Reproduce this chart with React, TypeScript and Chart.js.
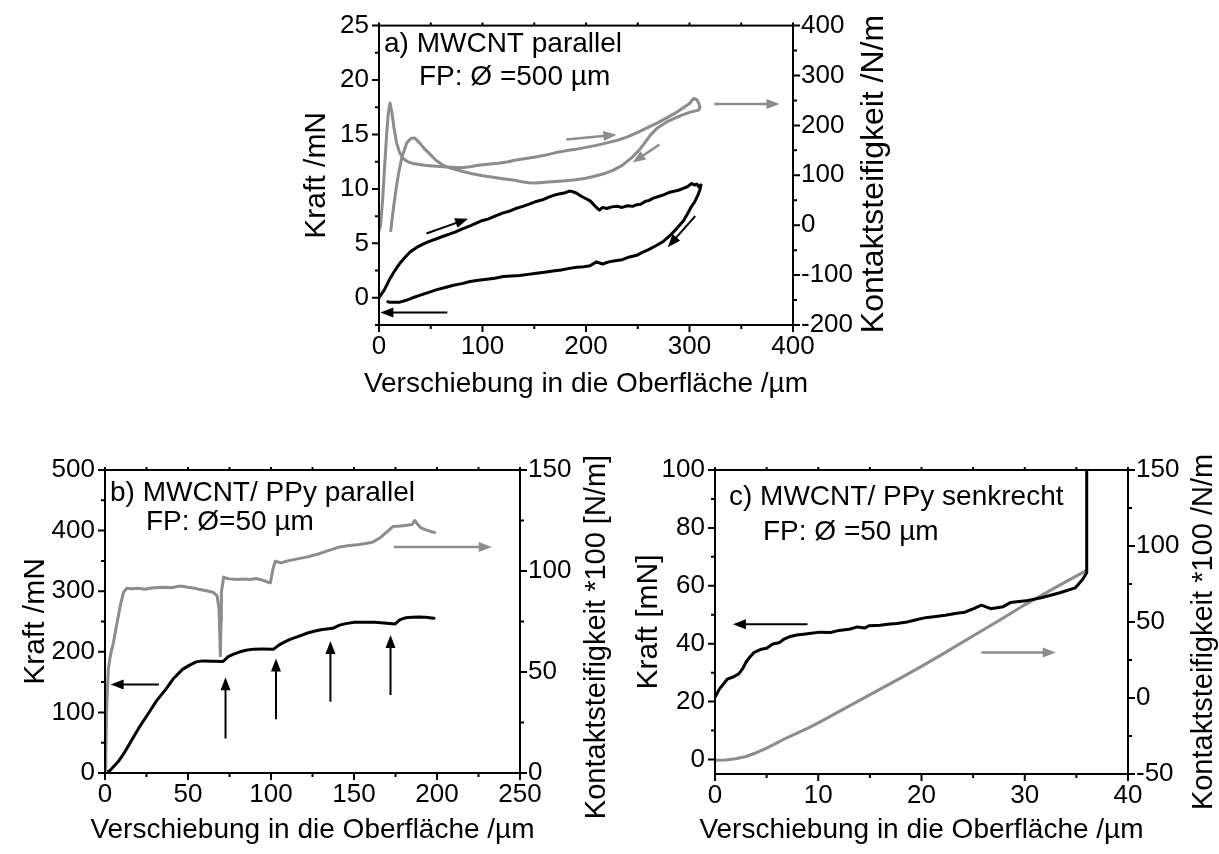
import React, { useEffect, useRef } from 'react';
import { Chart, registerables } from 'chart.js';

Chart.register(...registerables);

const FONT = '"Liberation Sans", Arial, Helvetica, sans-serif';
const BLACK = '#000000';
const GRAY = '#8c8c8c';
const TICK_SIZE = 26;
const TITLE_SIZE = 30;
const XTITLE_SIZE = 28;
const NOTE_SIZE = 28;

// ---------------- Panel a: MWCNT parallel ----------------
const aXTicks = [0, 100, 200, 300, 400];
const aForceTicks = [0, 5, 10, 15, 20, 25];
const aStiffTicks = [-200, -100, 0, 100, 200, 300, 400];

const aLoadX = [0, 5, 10, 15, 20, 25, 30, 36, 42, 48, 55, 62, 68, 74, 80, 88, 94, 100, 106, 112, 120, 126, 132, 139, 145, 152, 158, 164, 170, 175, 180, 184, 187, 191, 195, 200, 204, 207, 210, 213, 216, 220, 225, 230, 235, 240, 245, 249, 253, 257, 261, 265, 270, 275, 281, 286, 290, 294, 298, 302, 305, 307, 309, 311];
const aLoadF = [0, 0.7, 1.65, 2.45, 3.15, 3.7, 4.2, 4.6, 4.9, 5.15, 5.4, 5.65, 5.85, 6.05, 6.3, 6.6, 6.85, 7.1, 7.25, 7.5, 7.8, 7.95, 8.2, 8.4, 8.6, 8.85, 9.0, 9.25, 9.45, 9.55, 9.65, 9.8, 9.75, 9.6, 9.35, 9.1, 8.9, 8.6, 8.3, 8.05, 8.3, 8.2, 8.35, 8.4, 8.3, 8.45, 8.4, 8.55, 8.6, 8.85, 8.95, 9.15, 9.3, 9.45, 9.7, 9.8, 9.9, 10.05, 10.2, 10.5, 10.35, 10.45, 10.2, 10.35];
const aUnloadX = [311, 310, 308, 305, 302, 298, 294, 288, 281, 275, 268, 260, 254, 249, 242, 235, 228, 222, 216, 210, 204, 198, 191, 184, 176, 168, 160, 152, 144, 136, 128, 120, 112, 104, 96, 88, 80, 72, 64, 56, 48, 40, 34, 29, 24, 20, 15, 10, 8.5];
const aUnloadF = [10.35, 9.9, 9.4, 8.8, 8.4, 7.7, 7.05, 6.4, 5.7, 5.2, 4.8, 4.4, 4.15, 3.9, 3.75, 3.5, 3.4, 3.3, 3.1, 3.3, 2.95, 2.85, 2.8, 2.7, 2.55, 2.45, 2.35, 2.25, 2.15, 2.05, 2.0, 1.95, 1.8, 1.7, 1.6, 1.5, 1.3, 1.15, 0.95, 0.75, 0.5, 0.25, 0.05, -0.15, -0.3, -0.4, -0.42, -0.4, -0.36];
const aStiffLoadX = [0, 1.5, 3.5, 5.5, 7.5, 9, 10.7, 12.5, 14.5, 17, 20, 23.5, 28, 34, 44, 55, 62, 70, 79, 88, 96, 105, 115, 125, 131, 140, 150, 160, 170, 180, 190, 200, 210, 220, 230, 240, 250, 260, 269, 278, 286.5, 293, 300, 304, 307, 309, 310];
const aStiffLoadS = [-12, 0, 50, 120, 185, 225, 245, 225, 195, 165, 145, 133, 127, 123, 120, 118, 117, 116, 115, 117, 120, 122, 124, 127, 130, 133, 136, 140, 145, 149, 152, 156, 160, 165, 170, 177, 186, 196, 205, 215, 225, 234, 244, 254, 252, 244, 236];
const aStiffUnloadX = [310, 309, 300, 292, 286.5, 278, 269, 262, 256, 252, 245, 235, 226, 217, 208, 200, 190, 180, 170, 160, 152, 145, 138, 131, 120, 110, 100, 90, 80, 70, 62, 55, 48, 44, 40, 36, 34, 31, 27, 24, 21.8, 19, 16.6, 14, 12.5, 11.4];
const aStiffUnloadS = [236, 231, 226, 220, 215, 207, 195, 180, 163, 152, 137, 120, 110, 103, 98, 94, 91, 89, 87.5, 86, 84.5, 85, 87, 90, 93, 96, 99, 103, 108, 114, 120, 130, 145, 153, 163, 172, 175, 174, 166, 148, 133, 105, 74, 35, 10, -11];
// arrows [x1, F1, x2, F2] in data units (force axis)
const aArrowsGray = [[324, 17.8, 387, 17.8], [181, 14.53, 229.4, 14.98], [271, 14.08, 245, 12.42]];
const aArrowsBlack = [[45.8, 5.9, 86.1, 7.27], [305.5, 7.5, 279, 4.65], [66, -1.35, 1.3, -1.35]];

// ---------------- Panel b: MWCNT/PPy parallel ----------------
const bXTicks = [0, 50, 100, 150, 200, 250];
const bForceTicks = [0, 100, 200, 300, 400, 500];
const bStiffTicks = [0, 50, 100, 150];
const bForceX = [0, 3, 8.1, 12, 16.3, 21, 26.4, 31, 36.6, 41, 46.7, 51, 54.9, 58.9, 65, 71.1, 74.2, 77.5, 81.3, 85, 89.4, 95, 101.6, 104.7, 108, 111.8, 117, 122, 126, 130, 137.2, 141.3, 145, 150.4, 156, 162.6, 168, 174.8, 177.8, 181, 185, 189, 193, 198.2];
const bForceF = [0, 4, 19.3, 35, 55.3, 77, 99.5, 119, 138, 155, 171, 178, 183.4, 185, 184.5, 184, 192, 196, 200, 202.5, 204.4, 204.5, 204.4, 211, 216, 221, 226, 231, 234, 236.5, 238.7, 244, 246.5, 248.6, 248.8, 248.6, 247.5, 245.9, 253, 256, 257, 257.5, 257, 255.5];
const bStiffX = [0, 0.5, 1, 1.5, 2, 3, 4, 5.1, 6.5, 8.1, 9.5, 11.2, 13.2, 16, 20, 24, 28, 32, 36.6, 40, 44, 46.7, 50, 54, 57, 61, 65, 67.5, 68.7, 69.3, 69.5, 69.9, 70.1, 71.5, 73, 75.2, 80, 84, 87.4, 91, 95.5, 98, 99.6, 101.2, 102.6, 106, 110, 116, 122, 128, 134, 140, 146, 152, 157, 161.5, 166, 170, 173.4, 178, 182, 185, 186.6, 188, 190, 193, 195, 198.6];
const bStiffS = [0, 10, 31.5, 42, 51.4, 57, 61, 64.6, 71, 78, 84, 89.5, 91.5, 91.2, 91.5, 91, 91.6, 91.8, 92, 91.7, 92.4, 92.5, 92, 91.5, 90.8, 90.2, 89.5, 87.8, 81.2, 65, 58, 75, 89.5, 97, 96.4, 96.1, 95.8, 96, 95.8, 96.3, 95.3, 94.5, 94.1, 101.1, 104.8, 104, 105, 106, 107, 108.3, 110, 111.6, 112.5, 113, 113.6, 114.4, 116.6, 119.5, 122, 122.3, 122.7, 123, 125, 123.5, 121.5, 120.5, 119.9, 119];
const bArrowsGray = [[174, 373, 233, 373]];
const bArrowsBlack = [[32.5, 146, 3.4, 146], [72.6, 57, 72.6, 158], [103, 88.6, 103, 189], [135.8, 117.7, 135.8, 218], [172, 128.7, 172, 227.7]];

// ---------------- Panel c: MWCNT/PPy senkrecht ----------------
const cXTicks = [0, 10, 20, 30, 40];
const cForceTicks = [0, 20, 40, 60, 80, 100];
const cStiffTicks = [-50, 0, 50, 100, 150];
const cForceX = [0, 0.44, 0.8, 1.2, 1.8, 2.3, 2.7, 3.0, 3.4, 3.8, 4.5, 5.0, 5.6, 6.2, 6.7, 7.3, 7.9, 8.6, 9.3, 10.2, 11.2, 12, 13, 13.8, 14.5, 14.9, 16, 16.7, 17.6, 18.6, 19.5, 20.4, 21.4, 22.3, 23.4, 24.2, 24.9, 25.8, 26.7, 27.9, 28.6, 30.1, 31.6, 33.4, 34.9, 35.6, 36, 36];
const cForceF = [21.5, 24.4, 26, 27.8, 28.6, 29.6, 31.5, 33.6, 35.5, 37, 38.1, 38.4, 39.9, 40.3, 41.6, 42.5, 43, 43.3, 43.6, 44, 43.9, 44.6, 45, 45.8, 45.4, 46.2, 46.4, 46.7, 47, 47.5, 48.3, 49, 49.4, 49.8, 50.5, 50.9, 51.9, 53.3, 52.1, 52.8, 54.2, 54.8, 55.9, 57.6, 59.3, 62.2, 64.5, 130];
const cStiffX = [0, 1, 2, 3, 4, 5, 6, 7, 8, 9, 10, 12, 14, 16, 18, 20, 22, 24, 26, 28, 30, 32, 34, 36];
const cStiffS = [-41, -40.8, -40, -38.5, -36, -33, -29.5, -26, -23, -19.8, -16.4, -9, -1.6, 5.8, 13.2, 20.8, 28.7, 36.8, 44.9, 53, 61.3, 69, 76.6, 84];
const cArrowsGray = [[25.8, 37, 33, 37]];
const cArrowsBlack = [[8.96, 46.7, 1.74, 46.7]];

// ---------------- generic panel machinery ----------------
type AxisSpec = { min: number; max: number; ticks: number[]; minor: number };
type SeriesSpec = { xs: number[]; ys: number[]; color: string; axis: 'y' | 'y2' };
type ArrowSet = { list: number[][]; color: string; width: number };
type NoteSpec = { text: string; x: number; y: number };
type PanelSpec = {
  id: string;
  box: { left: number; top: number; width: number; height: number };
  area: { left: number; right: number; top: number; bottom: number };
  x: AxisSpec; y: AxisSpec; y2: AxisSpec;
  xTitle: string; yTitle: string; y2Title: string; y2TitleSize: number;
  xTitleY: number; yTitleX: number; y2TitleX: number; y2TitleY: number;
  series: SeriesSpec[]; arrows: ArrowSet[]; notes: NoteSpec[];
};

function tickMarks(ax: AxisSpec) {
  const out: { v: number; major: boolean }[] = [];
  let start = ax.ticks[0];
  while (start - ax.minor >= ax.min - 1e-9) start -= ax.minor;
  for (let v = start; v <= ax.max + 1e-9; v += ax.minor) {
    const vv = Math.round(v * 1000) / 1000;
    out.push({ v: vv, major: ax.ticks.some((t) => Math.abs(t - vv) < 1e-6) });
  }
  return out;
}

function drawArrow(ctx: CanvasRenderingContext2D, x1: number, y1: number, x2: number, y2: number, color: string, width: number) {
  const ang = Math.atan2(y2 - y1, x2 - x1);
  const hl = 13, hw = 5;
  const c = Math.cos(ang), s = Math.sin(ang);
  const bx = x2 - hl * c, by = y2 - hl * s;
  ctx.strokeStyle = color;
  ctx.fillStyle = color;
  ctx.lineWidth = width;
  ctx.beginPath();
  ctx.moveTo(x1, y1);
  ctx.lineTo(bx + 2 * c, by + 2 * s);
  ctx.stroke();
  ctx.beginPath();
  ctx.moveTo(x2, y2);
  ctx.lineTo(bx + hw * s, by - hw * c);
  ctx.lineTo(bx - hw * s, by + hw * c);
  ctx.closePath();
  ctx.fill();
}

function buildConfig(spec: PanelSpec): any {
  const { box, area } = spec;
  const fixTicks = (vals: number[]) => (scale: any) => {
    scale.ticks = vals.map((v) => ({ value: v }));
  };
  const tickFont = { family: FONT, size: TICK_SIZE };
  const titleFont = { family: FONT, size: TITLE_SIZE };
  const half = TITLE_SIZE * 0.6;

  const decor = {
    id: 'decor_' + spec.id,
    afterDatasetsDraw(chart: any) {
      const { ctx, chartArea: a, scales } = chart;
      ctx.save();
      for (const set of spec.arrows) {
        for (const ar of set.list) {
          drawArrow(ctx, scales.x.getPixelForValue(ar[0]), scales.y.getPixelForValue(ar[1]),
            scales.x.getPixelForValue(ar[2]), scales.y.getPixelForValue(ar[3]), set.color, set.width);
        }
      }
      ctx.strokeStyle = BLACK;
      ctx.lineWidth = 2;
      ctx.strokeRect(a.left, a.top, a.right - a.left, a.bottom - a.top);
      ctx.beginPath();
      for (const t of tickMarks(spec.x)) {
        const p = scales.x.getPixelForValue(t.v);
        ctx.moveTo(p, a.bottom);
        ctx.lineTo(p, a.bottom + (t.major ? 7 : 4));
        ctx.moveTo(p, a.top);
        ctx.lineTo(p, a.top - 3);
      }
      for (const t of tickMarks(spec.y)) {
        const p = scales.y.getPixelForValue(t.v);
        ctx.moveTo(a.left, p);
        ctx.lineTo(a.left - (t.major ? 7 : 4), p);
      }
      for (const t of tickMarks(spec.y2)) {
        const p = scales.y2.getPixelForValue(t.v);
        ctx.moveTo(a.right, p);
        ctx.lineTo(a.right + (t.major ? 7 : 4), p);
      }
      ctx.stroke();
      ctx.fillStyle = BLACK;
      ctx.textBaseline = 'middle';
      // notes
      ctx.font = `${NOTE_SIZE}px ${FONT}`;
      ctx.textAlign = 'left';
      for (const n of spec.notes) ctx.fillText(n.text, n.x - box.left, n.y - box.top);
      // x title (no width squeezing)
      ctx.font = `${XTITLE_SIZE}px ${FONT}`;
      ctx.textAlign = 'center';
      ctx.fillText(spec.xTitle, (a.left + a.right) / 2, spec.xTitleY - box.top);
      // right title, reading bottom to top
      ctx.font = `${spec.y2TitleSize}px ${FONT}`;
      ctx.translate(spec.y2TitleX - box.left, spec.y2TitleY - box.top);
      ctx.rotate(-Math.PI / 2);
      ctx.fillText(spec.y2Title, 0, 0);
      ctx.restore();
    },
  };

  const datasets = spec.series.map((s) => ({
    data: s.xs.map((x, i) => ({ x, y: s.ys[i] })),
    borderColor: s.color,
    backgroundColor: s.color,
    borderWidth: 3,
    pointRadius: 0,
    showLine: true,
    tension: 0,
    fill: false,
    xAxisID: 'x',
    yAxisID: s.axis,
    borderJoinStyle: 'round',
    borderCapStyle: 'round',
  }));

  const common = {
    type: 'linear',
    grid: { display: false, drawTicks: false },
    border: { display: false },
  };

  return {
    type: 'scatter',
    data: { datasets },
    options: {
      responsive: false,
      animation: false,
      events: [],
      layout: { padding: { left: 0, right: 0, top: area.top - box.top, bottom: 0 } },
      plugins: { legend: { display: false }, tooltip: { enabled: false }, title: { display: false } },
      scales: {
        x: {
          ...common,
          position: 'bottom',
          min: spec.x.min,
          max: spec.x.max,
          afterBuildTicks: fixTicks(spec.x.ticks),
          afterFit: (s: any) => { s.height = box.top + box.height - area.bottom; },
          ticks: { font: tickFont, color: BLACK, padding: 6, maxRotation: 0, autoSkip: false },
          title: { display: false },
        },
        y: {
          ...common,
          position: 'left',
          min: spec.y.min,
          max: spec.y.max,
          afterBuildTicks: fixTicks(spec.y.ticks),
          afterFit: (s: any) => { s.width = area.left - box.left; },
          ticks: { font: tickFont, color: BLACK, padding: 10, autoSkip: false },
          title: {
            display: true, text: spec.yTitle, font: titleFont, color: BLACK,
            padding: { top: spec.yTitleX - box.left - half, bottom: 0 },
          },
        },
        y2: {
          ...common,
          position: 'right',
          min: spec.y2.min,
          max: spec.y2.max,
          afterBuildTicks: fixTicks(spec.y2.ticks),
          afterFit: (s: any) => { s.width = box.left + box.width - area.right; },
          ticks: { font: tickFont, color: BLACK, padding: 8, autoSkip: false },
          title: { display: false },
        },
      },
    },
    plugins: [decor],
  };
}

const X_TITLE = 'Verschiebung in die Oberfläche /µm';

const PANELS: PanelSpec[] = [
  {
    id: 'a',
    box: { left: 290, top: 0, width: 620, height: 410 },
    area: { left: 379, right: 793, top: 20, bottom: 325 },
    x: { min: 0, max: 400, ticks: aXTicks, minor: 50 },
    y: { min: -2.5, max: 25, ticks: aForceTicks, minor: 2.5 },
    y2: { min: -200, max: 400, ticks: aStiffTicks, minor: 50 },
    xTitle: X_TITLE, yTitle: 'Kraft /mN', y2Title: 'Kontaktsteifigkeit /N/m', y2TitleSize: 32,
    xTitleY: 384, yTitleX: 317, y2TitleX: 874, y2TitleY: 174,
    series: [
      { xs: aStiffLoadX, ys: aStiffLoadS, color: GRAY, axis: 'y2' },
      { xs: aStiffUnloadX, ys: aStiffUnloadS, color: GRAY, axis: 'y2' },
      { xs: aLoadX, ys: aLoadF, color: BLACK, axis: 'y' },
      { xs: aUnloadX, ys: aUnloadF, color: BLACK, axis: 'y' },
    ],
    arrows: [
      { list: aArrowsGray, color: GRAY, width: 2.5 },
      { list: aArrowsBlack, color: BLACK, width: 2 },
    ],
    notes: [
      { text: 'a) MWCNT parallel', x: 384, y: 44 },
      { text: 'FP: Ø =500 µm', x: 419, y: 77 },
    ],
  },
  {
    id: 'b',
    box: { left: 0, top: 440, width: 620, height: 414 },
    area: { left: 105, right: 520, top: 470, bottom: 773 },
    x: { min: 0, max: 250, ticks: bXTicks, minor: 25 },
    y: { min: 0, max: 500, ticks: bForceTicks, minor: 50 },
    y2: { min: 0, max: 150, ticks: bStiffTicks, minor: 25 },
    xTitle: X_TITLE, yTitle: 'Kraft /mN', y2Title: 'Kontaktsteifigkeit *100 [N/m]', y2TitleSize: 29,
    xTitleY: 830, yTitleX: 36, y2TitleX: 597, y2TitleY: 637,
    series: [
      { xs: bStiffX, ys: bStiffS, color: GRAY, axis: 'y2' },
      { xs: bForceX, ys: bForceF, color: BLACK, axis: 'y' },
    ],
    arrows: [
      { list: bArrowsGray, color: GRAY, width: 2.5 },
      { list: bArrowsBlack, color: BLACK, width: 2 },
    ],
    notes: [
      { text: 'b) MWCNT/ PPy parallel', x: 110, y: 493 },
      { text: 'FP: Ø=50 µm', x: 146, y: 522 },
    ],
  },
  {
    id: 'c',
    box: { left: 620, top: 440, width: 599, height: 414 },
    area: { left: 715, right: 1128, top: 470, bottom: 774 },
    x: { min: 0, max: 40, ticks: cXTicks, minor: 5 },
    y: { min: -5, max: 100, ticks: cForceTicks, minor: 10 },
    y2: { min: -50, max: 150, ticks: cStiffTicks, minor: 25 },
    xTitle: X_TITLE, yTitle: 'Kraft [mN]', y2Title: 'Kontaktsteifigkeit *100 /N/m', y2TitleSize: 29,
    xTitleY: 830, yTitleX: 649, y2TitleX: 1204, y2TitleY: 632,
    series: [
      { xs: cForceX, ys: cForceF, color: BLACK, axis: 'y' },
      { xs: cStiffX, ys: cStiffS, color: GRAY, axis: 'y2' },
    ],
    arrows: [
      { list: cArrowsGray, color: GRAY, width: 2.5 },
      { list: cArrowsBlack, color: BLACK, width: 2 },
    ],
    notes: [
      { text: 'c) MWCNT/ PPy senkrecht', x: 729, y: 497 },
      { text: 'FP: Ø =50 µm', x: 763, y: 532 },
    ],
  },
];

function Panel({ spec }: { spec: PanelSpec }) {
  const ref = useRef<HTMLCanvasElement>(null);
  useEffect(() => {
    if (!ref.current) return;
    const chart = new Chart(ref.current, buildConfig(spec));
    return () => chart.destroy();
  }, [spec]);
  const { box } = spec;
  return (
    <canvas
      ref={ref}
      width={box.width}
      height={box.height}
      style={{ position: 'absolute', left: box.left, top: box.top, width: box.width, height: box.height }}
    />
  );
}

export default function App() {
  return (
    <div style={{ position: 'absolute', left: 0, top: 0, width: 1219, height: 854, background: '#ffffff', overflow: 'hidden' }}>
      {PANELS.map((p) => (
        <Panel key={p.id} spec={p} />
      ))}
    </div>
  );
}
